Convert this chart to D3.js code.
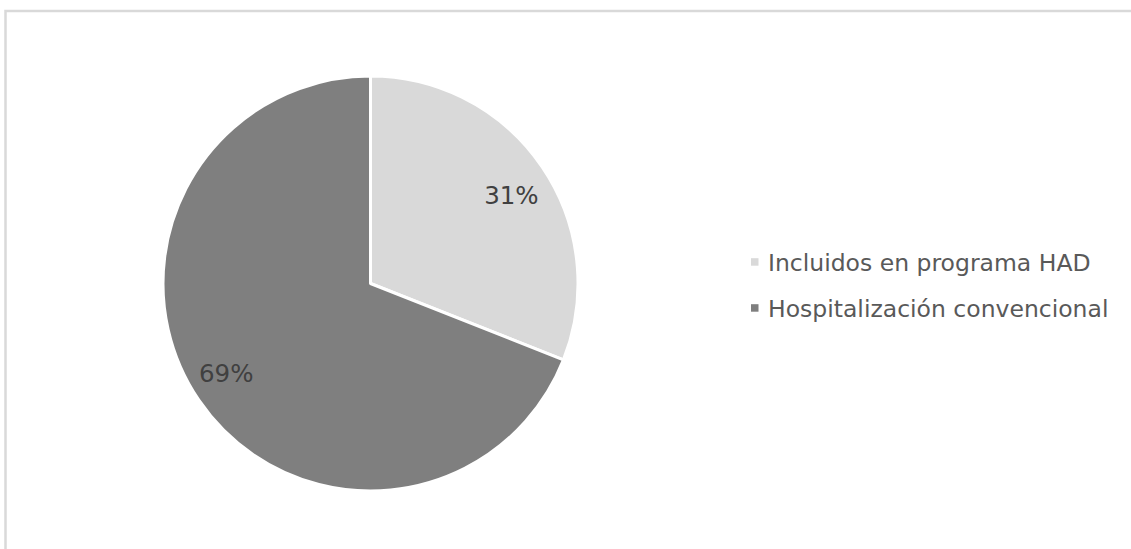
<!DOCTYPE html>
<html>
<head>
<meta charset="utf-8">
<script src="https://cdn.jsdelivr.net/npm/d3@7"></script>
<style>
  html, body { margin: 0; padding: 0; background: #ffffff; }
  svg { display: block; }
</style>
</head>
<body>
<svg id="chart" width="1131" height="549"></svg>
<script>
// Share of patients by type of care
const categories = ["Incluidos en programa HAD", "Hospitalización convencional"];
const values = [31, 69];
const percentLabels = ["31%", "69%"];
const colors = ["#d9d9d9", "#7f7f7f"];

const svg = d3.select("#chart");
const W = 1131, H = 549;
const FONT = "'DejaVu Sans', Verdana, sans-serif";

// chart frame
svg.append("rect")
  .attr("x", 5.5).attr("y", 11)
  .attr("width", W + 20).attr("height", H + 20)
  .attr("fill", "#ffffff")
  .attr("stroke", "#d9d9d9")
  .attr("stroke-width", 2.5);

const cx = 370.5, cy = 283.5, R = 207.5;

const pie = d3.pie().sort(null).value(d => d)(values);
const arc = d3.arc().innerRadius(0).outerRadius(R);

const g = svg.append("g").attr("transform", `translate(${cx},${cy})`);

g.selectAll("path.slice")
  .data(pie)
  .join("path")
  .attr("class", "slice")
  .attr("d", arc)
  .attr("fill", (d, i) => colors[i])
  .attr("stroke", "#ffffff")
  .attr("stroke-width", 3)
  .attr("stroke-linejoin", "round");

// data labels, placed a little past each slice's mid angle
const labelRadius = [166, 170];
const labelNudge = 0.04;
g.selectAll("text.pct")
  .data(pie)
  .join("text")
  .attr("class", "pct")
  .attr("transform", (d, i) => {
    const a = (d.startAngle + d.endAngle) / 2 + labelNudge;
    const r = labelRadius[i];
    return `translate(${Math.sin(a) * r},${-Math.cos(a) * r})`;
  })
  .attr("text-anchor", "middle")
  .attr("dominant-baseline", "central")
  .attr("font-family", FONT)
  .attr("font-size", 24.5)
  .attr("fill", "#404040")
  .text((d, i) => percentLabels[i]);

// legend
const legend = svg.append("g").attr("transform", "translate(751,0)");
const item = legend.selectAll("g.item")
  .data(categories)
  .join("g")
  .attr("class", "item")
  .attr("transform", (d, i) => `translate(0,${270.7 + i * 46})`);

item.append("rect")
  .attr("x", 0).attr("y", -12.5)
  .attr("width", 7.5).attr("height", 7.5)
  .attr("fill", (d, i) => colors[i]);

item.append("text")
  .attr("x", 17)
  .attr("y", 0)
  .attr("font-family", FONT)
  .attr("font-size", 23.5)
  .attr("fill", "#595959")
  .text(d => d);
</script>
</body>
</html>
